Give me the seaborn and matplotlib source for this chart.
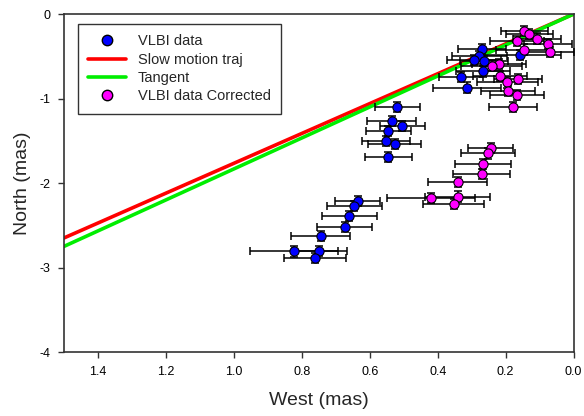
import numpy as np
import pandas as pd
import matplotlib
matplotlib.use("Agg")
import matplotlib.pyplot as plt
import seaborn as sns
from matplotlib.lines import Line2D

# ---- data ----
vlbi_west = [0.269, 0.277, 0.293, 0.263, 0.267, 0.332, 0.314, 0.158,
             0.519, 0.536, 0.504, 0.545, 0.552, 0.526, 0.546,
             0.636, 0.645, 0.660, 0.674, 0.744, 0.748, 0.824, 0.761]
vlbi_north = [-0.41, -0.50, -0.54, -0.56, -0.68, -0.75, -0.87, -0.48,
              -1.10, -1.27, -1.33, -1.38, -1.50, -1.54, -1.69,
              -2.21, -2.27, -2.39, -2.52, -2.63, -2.80, -2.81, -2.89]
vlbi_west_err = [0.07, 0.08, 0.08, 0.07, 0.08, 0.065, 0.10, 0.12,
                 0.066, 0.073, 0.066, 0.065, 0.07, 0.078, 0.069,
                 0.065, 0.08, 0.08, 0.08, 0.087, 0.08, 0.13, 0.09]

corr_west = [0.145, 0.130, 0.107, 0.166, 0.075, 0.147, 0.069,
             0.219, 0.241, 0.216, 0.163, 0.195, 0.193, 0.167, 0.178,
             0.244, 0.251, 0.266, 0.271, 0.341, 0.419, 0.341, 0.353]
corr_north = [-0.20, -0.24, -0.29, -0.32, -0.35, -0.42, -0.45,
              -0.595, -0.61, -0.73, -0.77, -0.81, -0.91, -0.96, -1.10,
              -1.59, -1.65, -1.77, -1.89, -1.99, -2.18, -2.16, -2.25]
corr_west_err = [0.07, 0.07, 0.07, 0.08, 0.07, 0.08, 0.07,
                 0.08, 0.09, 0.08, 0.07, 0.09, 0.08, 0.08, 0.07,
                 0.066, 0.079, 0.082, 0.083, 0.087, 0.13, 0.095, 0.09]
north_err = 0.06

slow_west = [1.5, 0.0]
slow_north = [-2.65, 0.0]
tangent_west = [1.5, 0.0]
tangent_north = [-2.75, 0.0]

x_ticks = [1.4, 1.2, 1.0, 0.8, 0.6, 0.4, 0.2, 0.0]
y_ticks = [-4, -3, -2, -1, 0]

# ---- style ----
sns.set_style("ticks")
plt.rcParams['font.family'] = ['Liberation Sans', 'DejaVu Sans']

fig = plt.figure(figsize=(5.84, 4.16), dpi=100)
ax = fig.add_axes([0.1096, 0.1538, 0.8726, 0.8125])

df_v = pd.DataFrame({"west": vlbi_west, "north": vlbi_north, "err": vlbi_west_err})
df_c = pd.DataFrame({"west": corr_west, "north": corr_north, "err": corr_west_err})
df_s = pd.DataFrame({"west": slow_west, "north": slow_north})
df_t = pd.DataFrame({"west": tangent_west, "north": tangent_north})

sns.lineplot(data=df_s, x="west", y="north", color="#ff0000", lw=2.6, ax=ax,
             legend=False, zorder=2)
sns.lineplot(data=df_t, x="west", y="north", color="#00ee00", lw=2.6, ax=ax,
             legend=False, zorder=2)

for df in (df_v, df_c):
    ax.errorbar(df["west"], df["north"], xerr=df["err"], yerr=north_err,
                fmt="none", ecolor="black", elinewidth=1.1, capsize=3,
                capthick=1.1, zorder=3)

sns.scatterplot(data=df_v, x="west", y="north", color="#0000ff", s=44,
                edgecolor="black", linewidth=0.8, ax=ax, zorder=4, legend=False)
sns.scatterplot(data=df_c, x="west", y="north", color="#ff00ff", s=44,
                edgecolor="black", linewidth=0.8, ax=ax, zorder=4, legend=False)

ax.set_xlim(1.5, 0.0)
ax.set_ylim(-4, 0)
ax.set_xticks(x_ticks)
ax.set_xticklabels([f"{v:.1f}" for v in x_ticks])
ax.set_yticks(y_ticks)
ax.set_yticklabels([str(v) for v in y_ticks])
ax.tick_params(direction="out", length=4, width=1, labelsize=9,
               colors="#333333", labelcolor="black", pad=6)
for sp in ax.spines.values():
    sp.set_visible(True)
    sp.set_color("#333333")
    sp.set_linewidth(1.2)

ax.set_xlabel("West (mas)", fontsize=14, labelpad=10)
ax.set_ylabel("North (mas)", fontsize=14, labelpad=6)

handles = [
    Line2D([], [], marker="o", ls="none", markerfacecolor="#0000ff",
           markeredgecolor="black", markersize=7.5),
    Line2D([], [], color="#ff0000", lw=2.6),
    Line2D([], [], color="#00ee00", lw=2.6),
    Line2D([], [], marker="o", ls="none", markerfacecolor="#ff00ff",
           markeredgecolor="black", markersize=7.5),
]
labels = ["VLBI data", "Slow motion traj", "Tangent", "VLBI data Corrected"]
leg = ax.legend(handles, labels, loc="upper left", bbox_to_anchor=(0.027, 0.97),
                fontsize=10.5, frameon=True, fancybox=False, handlelength=2.6,
                borderpad=0.7, labelspacing=0.3, handletextpad=0.8,
                borderaxespad=0)
leg.get_frame().set_edgecolor("black")
leg.get_frame().set_linewidth(1.0)

fig.savefig("out.png", dpi=100)
